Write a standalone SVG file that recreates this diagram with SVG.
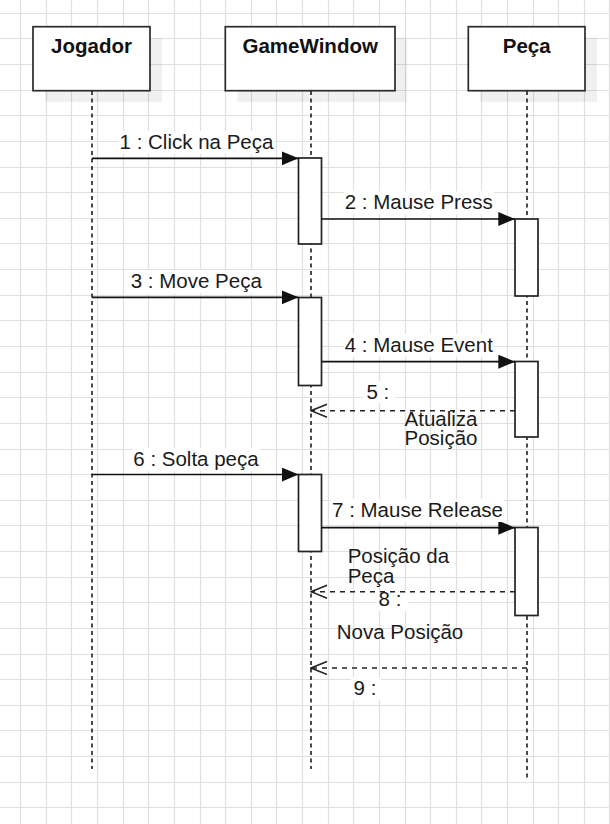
<svg xmlns="http://www.w3.org/2000/svg" width="610" height="824" viewBox="0 0 610 824">
<style>
.grid{stroke:#e0e0e0;stroke-width:1.2;fill:none}
.box{fill:#fff;stroke:#2b2b2b;stroke-width:1.7}
.shadow{fill:#000;fill-opacity:0.06}
.life{stroke:#2b2b2b;stroke-width:1.7;stroke-dasharray:4 3.5;fill:none}
.act{fill:#fff;stroke:#222;stroke-width:1.7}
.msg{stroke:#111;stroke-width:1.7;fill:none;marker-end:url(#filled)}
.ret{stroke:#222;stroke-width:1.5;stroke-dasharray:5 5;fill:none;marker-end:url(#open)}
.title{font-family:"Liberation Sans",Arial,sans-serif;font-size:20.5px;font-weight:bold;fill:#111;text-anchor:middle}
.lbl{font-family:"Liberation Sans",Arial,sans-serif;font-size:20.5px;fill:#1a1a1a}
.mid{text-anchor:middle}
.bg{fill:#fff}
</style>
<defs>
<marker id="filled" markerUnits="userSpaceOnUse" markerWidth="18" markerHeight="16" refX="16.7" refY="7" orient="auto">
<path d="M0,0 L16.7,7 L0,14 Z" fill="#111"/>
</marker>
<marker id="open" markerUnits="userSpaceOnUse" markerWidth="18" markerHeight="16" refX="16.5" refY="7" orient="auto">
<path d="M0.5,0.5 L16.5,7 L0.5,13.5" fill="none" stroke="#222" stroke-width="1.5"/>
</marker>
</defs>
<rect x="0" y="0" width="610" height="824" fill="#fff"/>
<path class="grid" d="M20.5,0V824 M46.5,0V824 M71.5,0V824 M97.5,0V824 M123.5,0V824 M148.5,0V824 M174.5,0V824 M200.5,0V824 M225.5,0V824 M251.5,0V824 M276.5,0V824 M302.5,0V824 M328.5,0V824 M353.5,0V824 M379.5,0V824 M405.5,0V824 M430.5,0V824 M456.5,0V824 M481.5,0V824 M507.5,0V824 M533.5,0V824 M558.5,0V824 M584.5,0V824 M609.5,0V824 M0,13.5H610 M0,38.5H610 M0,64.5H610 M0,90.5H610 M0,115.5H610 M0,141.5H610 M0,167.5H610 M0,192.5H610 M0,218.5H610 M0,243.5H610 M0,269.5H610 M0,295.5H610 M0,320.5H610 M0,346.5H610 M0,372.5H610 M0,397.5H610 M0,423.5H610 M0,449.5H610 M0,474.5H610 M0,500.5H610 M0,525.5H610 M0,551.5H610 M0,577.5H610 M0,602.5H610 M0,628.5H610 M0,654.5H610 M0,679.5H610 M0,705.5H610 M0,730.5H610 M0,756.5H610 M0,782.5H610 M0,807.5H610"/>

<g id="jogador">
<rect class="shadow" x="45" y="38" width="117" height="64"/>
<line class="life" x1="92" y1="91" x2="92" y2="769"/>
<rect class="box" x="33" y="26.7" width="117" height="64"/>
<text class="title" x="91.5" y="53.3">Jogador</text>
</g>

<g id="gamewindow">
<rect class="shadow" x="237.3" y="38" width="169.7" height="64"/>
<line class="life" x1="311" y1="91" x2="311" y2="769"/>
<rect class="box" x="225.3" y="26.7" width="169.7" height="64"/>
<text class="title" x="310.2" y="53.3">GameWindow</text>
</g>

<g id="peca">
<rect class="shadow" x="480.3" y="38" width="116.7" height="64"/>
<line class="life" x1="527" y1="91" x2="527" y2="778"/>
<rect class="box" x="468.3" y="26.7" width="116.7" height="64"/>
<text class="title" x="526.7" y="53.3">Peça</text>
</g>

<g id="gw-act1"><rect class="act" x="298.5" y="158" width="23" height="86"/></g>
<g id="gw-act2"><rect class="act" x="298.5" y="297.5" width="23" height="88"/></g>
<g id="gw-act3"><rect class="act" x="298.5" y="474.5" width="23" height="77"/></g>
<g id="peca-act1"><rect class="act" x="515" y="219" width="23" height="77"/></g>
<g id="peca-act2"><rect class="act" x="515" y="361.5" width="23" height="75.5"/></g>
<g id="peca-act3"><rect class="act" x="515" y="527.5" width="23" height="88"/></g>

<g id="connectors">
<line class="msg" x1="92" y1="158.3" x2="298.5" y2="158.3"/>
<rect class="bg" x="118.6" y="131" width="155.8" height="23"/>
<text class="lbl mid" x="196.5" y="149">1 : Click na Peça</text>

<line class="msg" x1="321.5" y1="219" x2="515" y2="219"/>
<rect class="bg" x="343.7" y="191.3" width="150.1" height="23"/>
<text class="lbl mid" x="418.8" y="209.3">2 : Mause Press</text>

<line class="msg" x1="92" y1="297.3" x2="298.5" y2="297.3"/>
<rect class="bg" x="129.8" y="270.3" width="133" height="23"/>
<text class="lbl mid" x="196.3" y="288.3">3 : Move Peça</text>

<line class="msg" x1="321.5" y1="361.7" x2="515" y2="361.7"/>
<rect class="bg" x="343.7" y="333.7" width="150.1" height="23"/>
<text class="lbl mid" x="418.8" y="351.7">4 : Mause Event</text>

<line class="ret" x1="515" y1="410.7" x2="311" y2="410.7"/>
<rect class="bg" x="363" y="381" width="32" height="22"/>
<text class="lbl mid" x="377.8" y="399.3">5 :</text>
<text class="lbl mid" x="441" y="425.7">Atualiza<tspan x="441" dy="18.8">Posição</tspan></text>

<line class="msg" x1="92" y1="474.5" x2="298.5" y2="474.5"/>
<rect class="bg" x="132.3" y="448" width="127.4" height="23"/>
<text class="lbl mid" x="196" y="466">6 : Solta peça</text>

<line class="msg" x1="321.5" y1="527.7" x2="515" y2="527.7"/>
<rect class="bg" x="331" y="499" width="173" height="23"/>
<text class="lbl mid" x="417.5" y="517">7 : Mause Release</text>

<text class="lbl" x="347.7" y="562.7">Posição da<tspan x="347.7" dy="20.6">Peça</tspan></text>
<line class="ret" x1="515" y1="591.7" x2="311" y2="591.7"/>
<rect class="bg" x="376.7" y="593" width="31.6" height="18"/>
<text class="lbl mid" x="390" y="605.7">8 :</text>

<text class="lbl mid" x="400" y="639.3">Nova Posição</text>
<line class="ret" x1="527" y1="668" x2="311" y2="668"/>
<rect class="bg" x="351" y="677" width="30" height="23"/>
<text class="lbl mid" x="365" y="695">9 :</text>
</g>
</svg>
